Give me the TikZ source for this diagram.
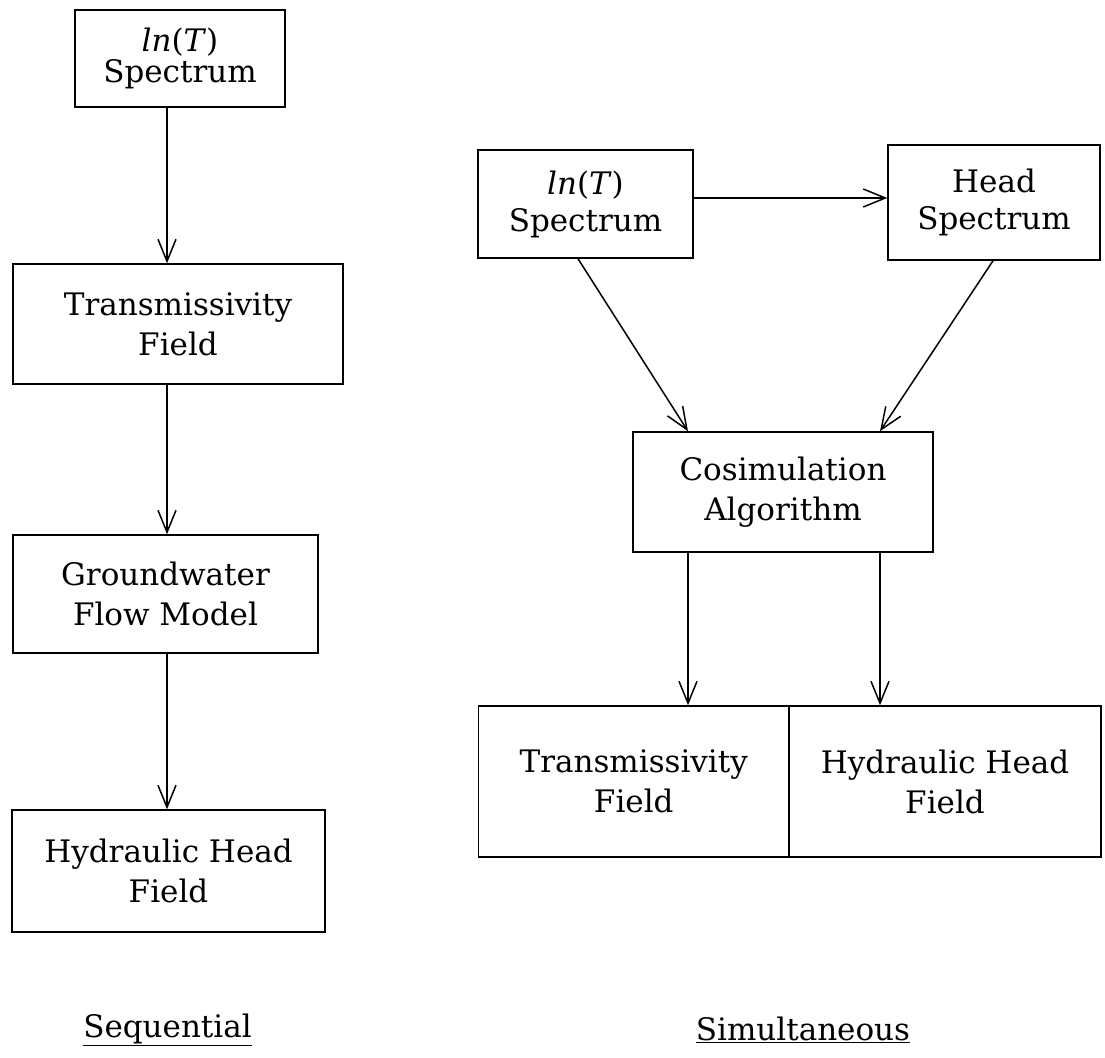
\documentclass[tikz,border=0pt]{standalone}
\usepackage{fontspec}
\setmainfont{DejaVu Serif}
\usetikzlibrary{arrows.meta,calc}
\begin{document}
\begin{tikzpicture}[x=1pt,y=-1pt,
  box/.style={draw,line width=1.5pt,inner sep=0pt,align=center,
    font=\fontsize{31}{40}\selectfont},
  tight/.style={font=\fontsize{31}{31}\selectfont},
  mid/.style={font=\fontsize{31}{37}\selectfont},
  arr/.style={line width=1.5pt,-{Straight Barb[length=22pt,width=18pt,line width=1.5pt]}},
  lbl/.style={inner sep=0pt,anchor=base,font=\fontsize{31}{37}\selectfont}]
\useasboundingbox (0,0) rectangle (1105,1057);
% left column
\node[box,tight,minimum width=210pt,minimum height=97pt] (b1) at (180,58.5) {\textit{ln}(\textit{T})\\Spectrum};
\node[box,minimum width=330pt,minimum height=120pt] (b2) at (178,324) {Transmissivity\\Field};
\node[box,minimum width=305pt,minimum height=118pt] (b3) at (165.5,594) {Groundwater\\Flow Model};
\node[box,minimum width=313pt,minimum height=122pt] (b4) at (168.5,871) {Hydraulic Head\\Field};
\coordinate (ax) at (167,0);
\draw[arr] (b1.south -| ax) -- (b2.north -| ax);
\draw[arr] (b2.south -| ax) -- (b3.north -| ax);
\draw[arr] (b3.south -| ax) -- (b4.north -| ax);
\node[lbl] (seq) at (167.5,1037) {\underline{Sequential}};
% right column
\node[box,mid,minimum width=215pt,minimum height=108pt] (r1) at (585.5,204) {\textit{ln}(\textit{T})\\Spectrum};
\node[box,mid,minimum width=212pt,minimum height=115pt] (r2) at (994,202.5) {Head\\Spectrum};
\node[box,minimum width=300pt,minimum height=120pt] (r3) at (783,492) {Cosimulation\\Algorithm};
\node[box,minimum width=310.5pt,minimum height=151pt] (tf) at (633.75,781.5) {Transmissivity\\Field};
\node[box,minimum width=312pt,minimum height=151pt] (hf) at (945,781.5) {Hydraulic Head\\Field};
\coordinate (hy) at (0,198);
\coordinate (d1s) at (578,0);
\coordinate (d1e) at (688,0);
\coordinate (d2s) at (993,0);
\coordinate (d2e) at (880,0);
\draw[arr] (r1.east |- hy) -- (r2.west |- hy);
\draw[arr] (r1.south -| d1s) -- (r3.north -| d1e);
\draw[arr] (r2.south -| d2s) -- (r3.north -| d2e);
\draw[arr] (r3.south -| d1e) -- (tf.north -| d1e);
\draw[arr] (r3.south -| d2e) -- (hf.north -| d2e);
\node[lbl] (sim) at (803,1040) {\underline{Simultaneous}};
\end{tikzpicture}
\end{document}
